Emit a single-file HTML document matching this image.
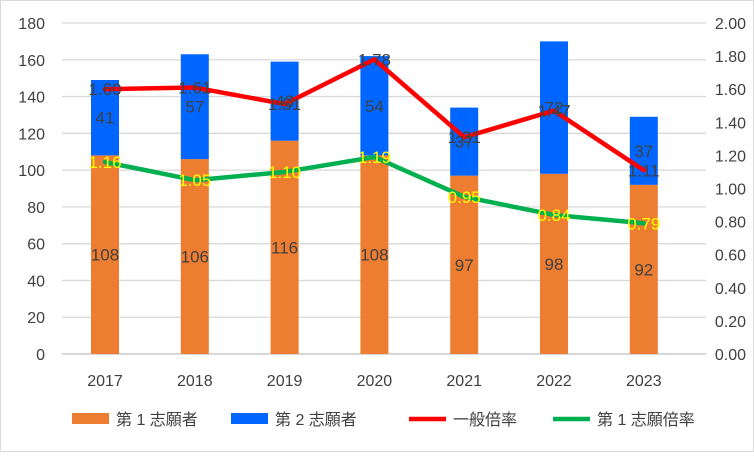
<!DOCTYPE html>
<html><head><meta charset="utf-8"><style>
body{margin:0;background:#fff}
svg text{font-family:"Liberation Sans","Noto Sans CJK JP",sans-serif}
</style></head><body>
<svg id="c" width="754" height="452" xmlns="http://www.w3.org/2000/svg">
<rect x="0.5" y="0.5" width="753" height="451" fill="#fff" stroke="#d9d9d9"/>
<g id="g"></g>
</svg>
<script>
const years=["2017","2018","2019","2020","2021","2022","2023"];
const first=[108,106,116,108,97,98,92];
const second=[41,57,43,54,37,72,37];
const ratioAll=[1.60,1.61,1.51,1.78,1.31,1.47,1.11];
const ratioFirst=[1.16,1.05,1.10,1.19,0.95,0.84,0.79];
const leftTicks=[0,20,40,60,80,100,120,140,160,180];
const rightTicks=[0,0.2,0.4,0.6,0.8,1.0,1.2,1.4,1.6,1.8,2.0];
const NS="http://www.w3.org/2000/svg";
const g=document.getElementById('g');
const X0=62,X1=706,Y0=354,Y1=23;
const yL=v=>Y0-(v/180)*(Y0-Y1);
const yR=v=>Y0-(v/2)*(Y0-Y1);
const step=89.8;
const xC=i=>105+step*i;
function el(t,a,txt){const e=document.createElementNS(NS,t);for(const k in a)e.setAttribute(k,a[k]);if(txt!==undefined)e.textContent=txt;g.appendChild(e);return e;}
leftTicks.forEach(v=>{
 const l=el('line',{x1:X0,x2:X1,y1:yL(v),y2:yL(v),stroke:v===0?'#bfbfbf':'#d9d9d9','stroke-width':1.3});
 
 const t=el('text',{x:45,y:yL(v)+6,'text-anchor':'end','font-size':16,fill:'#404040'},String(v));
 
});
rightTicks.forEach(v=>{
 const t=el('text',{x:746,y:yR(v)+6,'text-anchor':'end','font-size':16,fill:'#404040'},v.toFixed(2));
 
});
const bw=28;
years.forEach((y,i)=>{
 const x=xC(i);
 const r1=el('rect',{x:x-bw/2,y:yL(first[i]),width:bw,height:Y0-yL(first[i]),fill:'#ed7d31'});
 
 const top=first[i]+second[i];
 const r2=el('rect',{x:x-bw/2,y:yL(top),width:bw,height:yL(first[i])-yL(top),fill:'#0066ff'});
 
 const t=el('text',{x:x,y:386,'text-anchor':'middle','font-size':16,fill:'#404040'},y);
 
});
function line(arr,color,name){
 const p=el('polyline',{points:arr.map((v,i)=>xC(i)+','+yR(v)).join(' '),fill:'none',stroke:color,'stroke-width':4.5,'stroke-linejoin':'round','stroke-linecap':'round'});
 
}
line(ratioAll,'#ff0000','line-general-ratio');
line(ratioFirst,'#00b050','line-first-ratio');
years.forEach((y,i)=>{
 const x=xC(i);
 const a=el('text',{x:x,y:(yL(first[i])+Y0)/2+6,'text-anchor':'middle','font-size':17,fill:'#404040'},String(first[i]));
 
 const b=el('text',{x:x,y:(yL(first[i])+yL(first[i]+second[i]))/2+6,'text-anchor':'middle','font-size':17,fill:'#404040'},String(second[i]));
 
 const c=el('text',{x:x,y:yR(ratioAll[i])+6,'text-anchor':'middle','font-size':17,fill:'#404040'},ratioAll[i].toFixed(2));
 
 const d=el('text',{x:x,y:yR(ratioFirst[i])+6,'text-anchor':'middle','font-size':17,fill:'#ffff00'},ratioFirst[i].toFixed(2));
 
});
const lg=[["rect","#ed7d31",72,"第 1 志願者"],["rect","#0066ff",231,"第 2 志願者"],["line","#ff0000",409,"一般倍率"],["line","#00b050",553,"第 1 志願倍率"]];
lg.forEach(([k,c,x,txt])=>{
 let s;
 if(k==='rect') s=el('rect',{x:x,y:413,width:37,height:11,fill:c});
 else s=el('line',{x1:x,x2:x+37,y1:419,y2:419,stroke:c,'stroke-width':4.5});
 
 const t=el('text',{x:x+44,y:425,'font-size':16,fill:'#404040'},txt);
 
});
</script>
</body></html>
